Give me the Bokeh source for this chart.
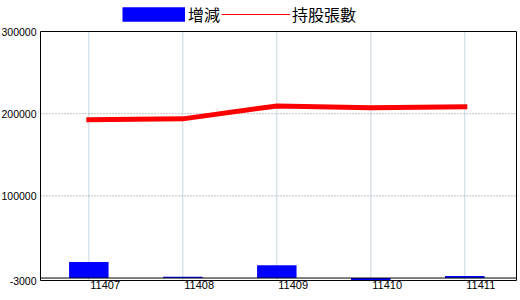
from bokeh.plotting import figure
from bokeh.models import Range1d, ColumnDataSource, Legend, LegendItem, LabelSet
from bokeh.core.properties import value
from bokeh.embed import file_html
from bokeh.resources import INLINE

# ---- data ----
months = ["11407", "11408", "11409", "11410", "11411"]
change = [19500, 1500, 15700, -2300, 2500]          # 增減
holdings = [192600, 193700, 209400, 207100, 208300]  # 持股張數
y_ticks = [-3000, 100000, 200000, 300000]
y_labels = ["-3000", "100000", "200000", "300000"]
y_grid = [100000, 200000]

# ---- layout (canvas pixels of the plotting box) ----
W, H = 520, 300
L, R, T, B = 40, 516, 31, 280
x0, x1 = -0.514, len(months) - 0.45          # category-index extent of the box
ymin, ymax = y_ticks[0], y_ticks[-1]
ux = (x1 - x0) / (R - L)
uy = (ymax - ymin) / (B - T)

x_idx = list(range(len(months)))
src = ColumnDataSource(dict(x=x_idx, month=months, change=change, holdings=holdings))

p = figure(width=W, height=H, output_backend="svg", toolbar_location=None,
           x_range=Range1d(x0 - L * ux, x1 + (W - R) * ux),
           y_range=Range1d(ymin - (H - B) * uy, ymax + T * uy),
           min_border=0)
p.axis.visible = False
p.grid.visible = False
p.outline_line_color = None
p.background_fill_color = "white"
p.border_fill_color = "white"

# grid lines
p.segment(x0=x_idx, x1=x_idx, y0=ymin, y1=ymax, line_color="#8fb0c4",
          line_dash="1 1", line_width=1)
p.segment(x0=x0, x1=x1, y0=y_grid, y1=y_grid, line_color="#8a8a8a",
          line_dash="1 2", line_width=1)

p.vbar(x="x", top="change", bottom=0, width=0.42, source=src,
       fill_color="#0000ff", line_color=None)
# zero baseline
p.segment(x0=x0, x1=x1, y0=0, y1=0, line_color="black", line_width=1)

p.line(x="x", y="holdings", source=src, line_color="#ff0000", line_width=5,
       line_cap="square", line_join="miter")

# hidden legend proxies
proxy_bar = p.line(x="x", y="change", source=src, line_color="#0000ff",
                   line_width=14.4, line_cap="butt", visible=False)
proxy_line = p.line(x="x", y="holdings", source=src, line_color="#ff0000",
                    line_width=1, visible=False)

# plot box
p.quad(left=x0, right=x1, bottom=ymin, top=ymax, fill_color=None,
       line_color="black", line_width=1)

# tick labels
p.add_layout(LabelSet(x="x", y=ymin, text="month", source=src, x_offset=1.5,
                      text_align="left", text_baseline="top",
                      text_font=value("Liberation Sans"), text_font_size=value("11px"),
                      text_color="black"))
ysrc = ColumnDataSource(dict(y=y_ticks, text=y_labels))
p.add_layout(LabelSet(x=x0, y="y", text="text", source=ysrc, x_offset=-4,
                      text_align="right", text_baseline="middle",
                      text_font=value("Liberation Sans"), text_font_size=value("10.5px"),
                      text_color="black"))

common = dict(orientation="horizontal", padding=0, margin=0, spacing=0,
              border_line_alpha=0, background_fill_alpha=0,
              label_text_font="Noto Sans CJK TC", label_text_font_size="16px",
              label_text_color="black", label_height=18, glyph_height=18)
leg1 = Legend(items=[LegendItem(label="增減", renderers=[proxy_bar])],
              location=(122, 274.5), glyph_width=63, label_standoff=3, **common)
leg2 = Legend(items=[LegendItem(label="持股張數", renderers=[proxy_line])],
              location=(221, 274.5), glyph_width=69, label_standoff=2, **common)
p.add_layout(leg1)
p.add_layout(leg2)

open("out.html", "w").write(file_html(p, INLINE))
